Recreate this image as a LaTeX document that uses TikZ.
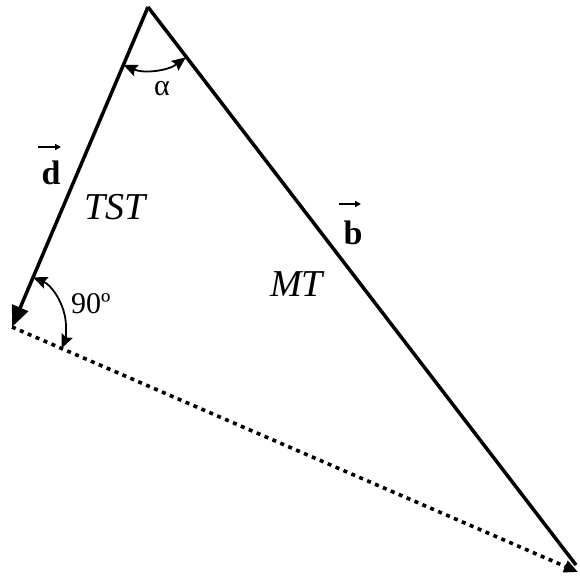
\documentclass[tikz,border=0pt]{standalone}
\usepackage{fontspec}
\setmainfont{Liberation Serif}
\usetikzlibrary{arrows.meta,calc}
\begin{document}
\begin{tikzpicture}[x=1pt,y=1pt,
  vec/.style={line width=3.5pt},
  bigtip/.style={-{Triangle[length=21pt,width=17pt]}},
  dotline/.style={line width=3.6pt,dash pattern=on 4pt off 4.6pt},
  anglearc/.style={line width=1.8pt,{Stealth[length=14pt,width=12pt,inset=2pt]}-{Stealth[length=14pt,width=12pt,inset=2pt]}},
  lbl/.style={inner sep=0pt,font=\fontsize{38}{40}\selectfont\itshape},
  vlbl/.style={inner sep=0pt,font=\fontsize{34}{36}\selectfont\bfseries},
  slbl/.style={inner sep=0pt,font=\fontsize{30}{32}\selectfont},
  vecbar/.style={line width=1.6pt,-{Triangle[length=6pt,width=6pt]}}]
\useasboundingbox (0,0) rectangle (579,-580);
\coordinate (T) at (148,-7);
\coordinate (L) at (12,-327);
\coordinate (R) at (578,-572);
\coordinate (Re) at (576,-565);
% sides
\draw[vec,bigtip] (T) -- (L);
\draw[vec] (T) -- (Re);
\draw[dotline,-{Triangle[length=14pt,width=12pt]}] (L) -- (R);
% angle arcs
\draw[anglearc] ([shift={(247:63)}]T) arc[start angle=247,end angle=307,radius=63];
\draw[anglearc] ([shift={(67:54)}]L) arc[start angle=67,end angle=-23.4,radius=54];
% labels
\node[slbl,anchor=base] (alpha) at (162,-96) {α};
\node[slbl,anchor=base west] (ninety) at (71,-313) {90º};
\node[vlbl,anchor=base] (d) at (51,-184) {d};
\node[vlbl,anchor=base] (b) at (353,-244) {b};
\node[lbl,anchor=base west] (tst) at (84,-219) {TST};
\node[lbl,anchor=base west] (mt) at (270,-296) {MT};
\coordinate (da) at ($(d.base)+(-13,37)$);
\coordinate (db) at ($(d.base)+(10,37)$);
\coordinate (ba) at ($(b.base)+(-14,40)$);
\coordinate (bb) at ($(b.base)+(8,40)$);
\draw[vecbar] (da) -- (db);
\draw[vecbar] (ba) -- (bb);
\end{tikzpicture}
\end{document}
